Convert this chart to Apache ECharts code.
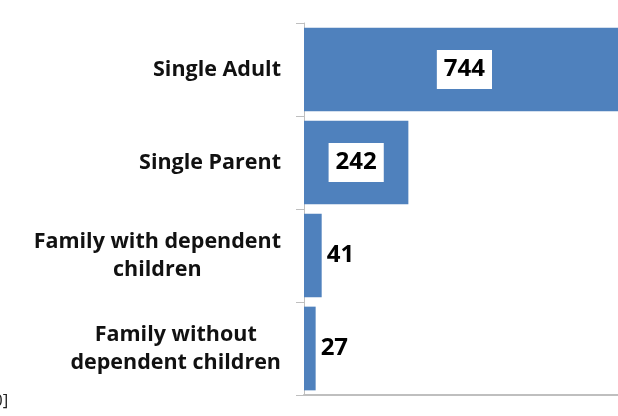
<!DOCTYPE html>
<html>
<head>
<meta charset="utf-8">
<script src="https://cdn.jsdelivr.net/npm/echarts@6/dist/echarts.min.js"></script>
<style>
  html, body { margin: 0; padding: 0; background: #fff; }
  #chart { width: 618px; height: 416px; }
</style>
</head>
<body>
<div id="chart"></div>
<script>
// Household types and their counts
const categories = [
  'Single Adult',
  'Single Parent',
  'Family with dependent\nchildren',
  'Family without\ndependent children'
];
const counts = [744, 242, 41, 27];

const FONT = '"Open Sans", Lato, sans-serif';
const BAR_BLUE = '#4f81bd';
const AXIS_GREY = '#bfbfbf';

const chart = echarts.init(document.getElementById('chart'), null, { renderer: 'canvas' });

// Large bars carry their value in a white box inside; small bars get it to the right
const barData = counts.map(v => ({
  value: v,
  label: v > 100
    ? { position: 'inside', backgroundColor: '#fff', padding: [5, 7, 4, 7] }
    : { position: 'right', distance: 5 }
}));

chart.setOption({
  animation: false,
  backgroundColor: '#fff',
  grid: {
    left: 304, top: 23, bottom: 21, width: 345,
    containLabel: false,
    outerBoundsMode: 'none'
  },
  xAxis: {
    type: 'value',
    min: 0,
    max: 800,
    axisLine: { show: true, lineStyle: { color: AXIS_GREY, width: 2 } },
    axisTick: { show: false },
    axisLabel: { show: false },
    splitLine: { show: false }
  },
  yAxis: {
    type: 'category',
    inverse: true,
    data: categories,
    axisLine: { show: true, lineStyle: { color: AXIS_GREY, width: 1 } },
    axisTick: { show: true, length: 8, lineStyle: { color: AXIS_GREY } },
    axisLabel: {
      margin: 23,
      formatter: v => v.split('\n').map(s => '{c|' + s + '}').join('\n'),
      rich: {
        c: {
          align: 'center',
          fontFamily: FONT,
          fontWeight: 'bold',
          fontSize: 21.5,
          lineHeight: 28,
          color: '#111'
        }
      }
    }
  },
  series: [{
    type: 'bar',
    data: barData,
    barCategoryGap: '10%',
    itemStyle: { color: BAR_BLUE },
    label: {
      show: true,
      fontFamily: FONT,
      fontWeight: 'bold',
      fontSize: 24,
      lineHeight: 30,
      color: '#000'
    }
  }],
  graphic: [{
    type: 'text',
    left: -7,
    top: 393,
    style: { text: '0]', fontFamily: FONT, fontSize: 17, fill: '#222' }
  }]
});
</script>
</body>
</html>
